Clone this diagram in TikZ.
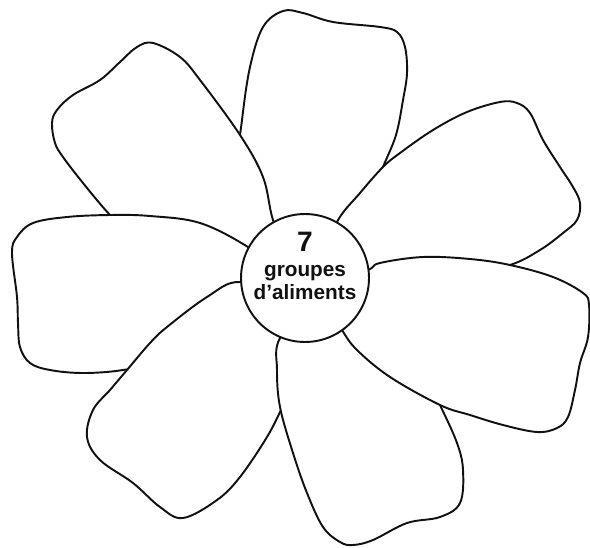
\documentclass[tikz,border=0pt]{standalone}
\usepackage{fontspec}
\setmainfont{Liberation Sans}
\usepackage{tikz}
\definecolor{inkline}{HTML}{111111}
\tikzset{
  petal/.style={draw=inkline,line width=1.1pt,fill=white,line join=round},
  hub/.style={circle,draw=inkline,line width=1.1pt,fill=white,minimum size=2.56cm,inner sep=0pt},
  hubtext/.style={align=center,inner sep=0pt,text=inkline,font=\fontsize{11.8}{13.1}\selectfont\bfseries}
}

\begin{document}
\begin{tikzpicture}[x=0.02cm,y=-0.02cm]
\useasboundingbox (0,0) rectangle (590,547);
\draw[petal] plot[smooth cycle,tension=0.6] coordinates {(290,255) (268,232) (248,200) (238,165) (242,120) (250,67) (263,27) (283,11) (303,13) (333,22) (380,27) (397,32) (405,47) (407,73) (403,100) (396,135) (383,167) (372,195) (345,235) (318,258)};
\draw[petal] plot[smooth cycle,tension=0.6] coordinates {(290,262) (273,220) (263,177) (240,135) (200,80) (180,57) (153,43) (137,47) (120,62) (100,80) (73,95) (57,110) (52,123) (55,143) (63,157) (83,183) (110,215) (135,238) (195,250) (250,265)};
\draw[petal] plot[smooth cycle,tension=0.6] coordinates {(325,262) (337,222) (360,193) (383,167) (400,153) (433,130) (467,112) (500,102) (517,103) (530,113) (543,140) (560,167) (573,187) (580,203) (577,220) (563,233) (540,250) (510,265) (460,276) (400,280) (355,282)};
\draw[petal] plot[smooth cycle,tension=0.6] coordinates {(285,275) (248,247) (200,223) (150,216) (110,215) (67,217) (33,223) (17,237) (12,253) (17,297) (18,323) (20,347) (30,363) (50,370) (83,373) (123,370) (165,360) (215,322) (255,295)};
\draw[petal] plot[smooth cycle,tension=0.6] coordinates {(290,300) (240,282) (207,297) (167,327) (150,343) (127,370) (110,390) (93,410) (87,437) (100,460) (133,483) (160,507) (183,518) (217,500) (240,477) (267,437) (282,408) (296,380) (300,338)};
\draw[petal] plot[smooth cycle,tension=0.6] coordinates {(315,300) (280,338) (277,370) (280,407) (293,453) (307,493) (323,527) (340,542) (353,545) (373,540) (407,523) (440,517) (460,503) (463,470) (457,443) (440,405) (425,375) (380,330) (340,300)};
\draw[petal] plot[smooth cycle,tension=0.6] coordinates {(330,285) (368,270) (380,263) (423,257) (470,259) (510,265) (553,277) (583,293) (589,305) (588,337) (580,363) (575,390) (568,417) (557,428) (537,432) (503,425) (470,415) (440,405) (390,377) (357,350) (342,330) (325,300)};
\node[hub] (hub) at (305,278) {};
\node[hubtext] (lbl) at (305,266) {{\fontsize{16}{16}\selectfont 7}\\[1.1pt]groupes\\d’aliments};
\end{tikzpicture}
\end{document}
